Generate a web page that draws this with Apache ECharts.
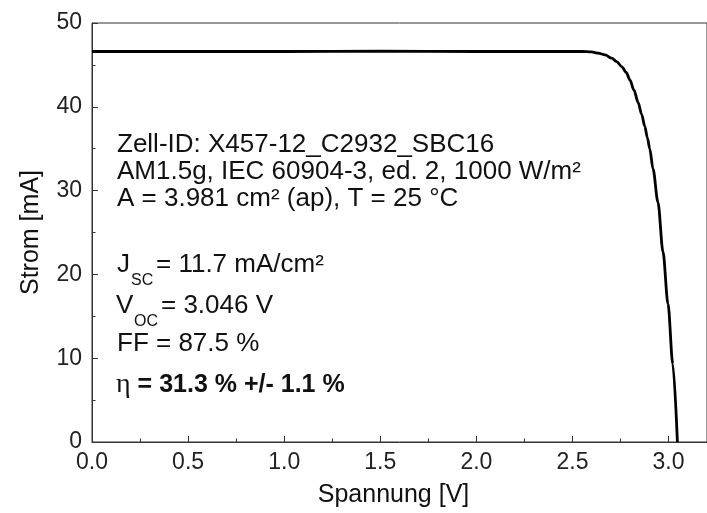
<!DOCTYPE html>
<html>
<head>
<meta charset="utf-8">
<script src="https://cdn.jsdelivr.net/npm/echarts@6/dist/echarts.min.js"></script>
<style>
  html, body { margin: 0; padding: 0; background: #fff; }
  #chart { width: 707px; height: 513px; }
</style>
</head>
<body>
<div id="chart"></div>
<script>
// Kennlinie (Spannung in V, Strom in mA)
const voltage = [0, 0.5, 1.0, 1.5, 2.0, 2.4, 2.55, 2.6, 2.634, 2.67, 2.704, 2.73, 2.756, 2.78, 2.799, 2.82, 2.842, 2.86, 2.876, 2.89, 2.902, 2.919, 2.945, 2.971, 2.997, 3.022, 3.046];
const current = [46.6, 46.6, 46.6, 46.65, 46.6, 46.6, 46.6, 46.55, 46.4, 46.2, 45.8, 45.4, 44.8, 44.1, 43.2, 42.0, 40.5, 39.1, 37.7, 36.3, 35.0, 32.6, 28.6, 22.7, 16.5, 9.3, 0];

// Achsen-Ticks
const xTicks = [0, 0.5, 1.0, 1.5, 2.0, 2.5, 3.0];
const xMinorTicks = [0.25, 0.75, 1.25, 1.75, 2.25, 2.75];
const yTicks = [0, 10, 20, 30, 40, 50];

// Beschriftung im Diagramm
const infoLines = [
    'Zell-ID: X457-12_C2932_SBC16',
    'AM1.5g, IEC 60904-3, ed. 2, 1000 W/m²',
    'A = 3.981 cm² (ap), T = 25 °C'
];
const jscText = ['J', 'SC', '= 11.7 mA/cm²'];
const vocText = ['V', 'OC', '= 3.046 V'];
const ffText = 'FF = 87.5 %';
const etaText = ['η', ' = 31.3 % +/- 1.1 %'];

const FONT = '"Liberation Sans", Arial, sans-serif';
const chart = echarts.init(document.getElementById('chart'));

function txt(x, y, text, size, weight) {
    return {
        type: 'text', x: x, y: y, silent: true,
        style: {
            text: text, fill: '#111', verticalAlign: 'middle',
            font: (weight || 'normal') + ' ' + size + 'px ' + FONT
        }
    };
}

const graphics = [];
infoLines.forEach((t, i) => graphics.push(txt(117, 145 + i * 27, t, 26)));
graphics.push(txt(117, 265, jscText[0], 26));
graphics.push(txt(131, 281, jscText[1], 16));
graphics.push(txt(156, 265, jscText[2], 26));
graphics.push(txt(116, 306, vocText[0], 26));
graphics.push(txt(134, 322, vocText[1], 16));
graphics.push(txt(161, 306, vocText[2], 26));
graphics.push(txt(117, 344, ffText, 26));
graphics.push({
    type: 'text', x: 116, y: 385, silent: true,
    style: {
        text: '{e|' + etaText[0] + '}{b|' + etaText[1] + '}',
        verticalAlign: 'middle', fill: '#111',
        rich: {
            e: { fontFamily: '"Liberation Serif", "DejaVu Serif", serif', fontSize: 28, fill: '#111' },
            b: { fontFamily: FONT, fontSize: 25, fontWeight: 'bold', fill: '#111' }
        }
    }
});

const option = {
    animation: false,
    backgroundColor: '#fff',
    grid: {
        left: 92, top: 23, right: -6, bottom: 68,
        show: true, borderColor: '#333', borderWidth: 1, backgroundColor: 'transparent'
    },
    xAxis: [{
        type: 'value', min: 0, max: 3.2, position: 'bottom',
        name: 'Spannung [V]', nameLocation: 'middle', nameGap: 41,
        nameTextStyle: { fontFamily: FONT, fontSize: 25, color: '#111', padding: [0, 12, 0, 0] },
        axisLine: { show: true, lineStyle: { color: '#333', width: 1 } },
        axisTick: { show: true, inside: true, length: 6, customValues: xTicks, lineStyle: { color: '#333' } },
        axisLabel: {
            customValues: xTicks, margin: 9,
            fontFamily: FONT, fontSize: 23, color: '#222',
            formatter: v => v.toFixed(1)
        },
        splitLine: { show: false }
    }, {
        type: 'value', min: 0, max: 3.2, position: 'bottom',
        axisLine: { show: false },
        axisTick: { show: true, inside: true, length: 3.5, customValues: xMinorTicks, lineStyle: { color: '#333' } },
        axisLabel: { show: false },
        splitLine: { show: false }
    }],
    yAxis: {
        type: 'value', min: 0, max: 50, interval: 10,
        name: 'Strom [mA]', nameLocation: 'middle', nameGap: 48,
        nameTextStyle: { fontFamily: FONT, fontSize: 25, color: '#111' },
        axisLine: { show: true, lineStyle: { color: '#333', width: 1 } },
        axisTick: { show: true, inside: true, length: 6, lineStyle: { color: '#333' } },
        minorTick: { show: true, splitNumber: 2, length: 3.5, lineStyle: { color: '#333' } },
        axisLabel: {
            margin: 10, fontFamily: FONT, fontSize: 23, color: '#222',
            customValues: yTicks
        },
        splitLine: { show: false },
        minorSplitLine: { show: false }
    },
    series: [{
        type: 'line',
        xAxisIndex: 0,
        data: voltage.map((v, i) => [v, current[i]]),
        showSymbol: false,
        smooth: 0.3,
        smoothMonotone: 'x',
        lineStyle: { color: '#000', width: 2.8 },
        clip: false
    }],
    graphic: graphics
};

chart.setOption(option);
</script>
</body>
</html>
